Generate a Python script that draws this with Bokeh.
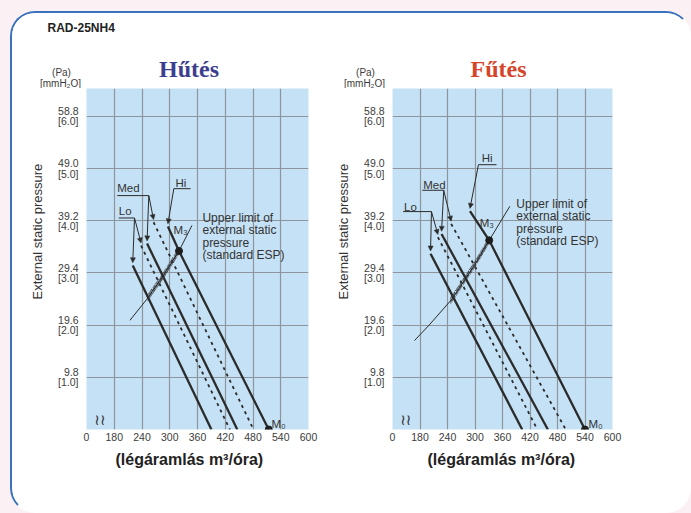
import numpy as np
from bokeh.plotting import figure
from bokeh.layouts import row, column
from bokeh.models import Range1d, FixedTicker, Label, Arrow, NormalHead, Title
from bokeh.embed import file_html
from bokeh.resources import INLINE

# ---------------- data ----------------
model_name = "RAD-25NH4"
chart_titles = ["Hűtés", "Fűtés"]
x_ticks = [120, 180, 240, 300, 360, 420, 480, 540, 600]
x_tick_labels = ["0", "180", "240", "300", "360", "420", "480", "540", "600"]
y_ticks_pa = [9.8, 19.6, 29.4, 39.2, 49.0, 58.8]
y_tick_pa_labels = ["9.8", "19.6", "29.4", "39.2", "49.0", "58.8"]
y_tick_mm_labels = ["1.0", "2.0", "3.0", "4.0", "5.0", "6.0"]
esp_note = ["Upper limit of", "external static", "pressure", "(standard ESP)"]

# Cooling (Hűtés)
cool_lo_x = [220, 390]
cool_lo_y = [30.8, 0]
cool_lo_dot_x = [238, 430]
cool_lo_dot_y = [34.5, 0]
cool_med_x = [251, 446]
cool_med_y = [34.9, 0]
cool_med_dot_x = [265, 481]
cool_med_dot_y = [38.9, 0]
cool_hi_x = [296, 320, 514]
cool_hi_y = [38.1, 33.5, 0]
cool_limit_x = [214, 250, 285, 320, 348]
cool_limit_y = [20.5, 24.4, 28.7, 33.5, 38.3]
cool_hatch_x = [252, 320]
cool_m3 = (320, 33.5)
cool_m0 = (514, 0)

# Heating (Fűtés)
heat_lo_x = [203, 403]
heat_lo_y = [33.0, 0]
heat_lo_dot_x = [219, 436]
heat_lo_dot_y = [36.1, 0]
heat_med_x = [227, 459]
heat_med_y = [36.7, 0]
heat_med_dot_x = [248, 498]
heat_med_dot_y = [38.6, 0]
heat_hi_x = [289, 331, 540]
heat_hi_y = [41.0, 35.5, 0]
heat_limit_x = [168, 200, 250, 300, 331, 376]
heat_limit_y = [16.7, 19.6, 24.5, 31.0, 35.5, 41.9]
heat_hatch_x = [246, 331]
heat_m3 = (331, 35.5)
heat_m0 = (540, 0)

# ---------------- style ----------------
PINK = "#fbf1f5"
BLUE_BG = "#c5e1f5"
GRID = "#8d949b"
INK = "#2b2b2b"
TXT = "#333333"
TICK = "#3c3c3c"
BORDER = "#3a72bd"
SANS = "Liberation Sans"


def build(fig_w, mb_left, mb_right, xlabel_off, S, L):
    p = figure(width=fig_w, height=423, x_range=Range1d(120, 600), y_range=Range1d(0, 64),
               output_backend="svg", toolbar_location=None, title=None,
               min_border_left=mb_left, min_border_right=mb_right,
               min_border_top=0, min_border_bottom=82)
    p.border_fill_color = "white"
    p.background_fill_color = BLUE_BG
    p.outline_line_color = None

    # axes
    p.xaxis.ticker = FixedTicker(ticks=x_ticks)
    p.xaxis.major_label_overrides = dict(zip(x_ticks, x_tick_labels))
    p.yaxis.ticker = FixedTicker(ticks=y_ticks_pa)
    p.yaxis.major_label_overrides = {t: f"{a}\n[{b}]" for t, a, b in
                                     zip(y_ticks_pa, y_tick_pa_labels, y_tick_mm_labels)}
    for ax in (p.xaxis, p.yaxis):
        ax.axis_line_color = None
        ax.major_tick_line_color = None
        ax.minor_tick_line_color = None
        ax.major_tick_out = 0
        ax.major_tick_in = 0
        ax.minor_tick_out = 0
        ax.minor_tick_in = 0
        ax.major_label_text_font = SANS
        ax.major_label_text_font_size = "10.5px"
        ax.major_label_text_color = TICK
    p.yaxis.major_label_text_line_height = 0.85
    p.yaxis.major_label_standoff = 8
    p.xaxis.major_label_standoff = 3
    p.xgrid.ticker = FixedTicker(ticks=x_ticks[1:-1])
    p.ygrid.ticker = FixedTicker(ticks=y_ticks_pa)
    p.grid.grid_line_color = GRID
    p.grid.grid_line_width = 1.2

    p.add_layout(Title(text="External static pressure", align="left", offset=130,
                       standoff=22, text_font=SANS, text_font_style="normal",
                       text_font_size="13px", text_color=TXT), "left")
    p.add_layout(Title(text="(légáramlás m³/óra)", align="left", offset=xlabel_off,
                       standoff=10, text_font=SANS, text_font_style="bold",
                       text_font_size="16px", text_color="#222222"), "below")

    # hatch band along the upper-limit curve
    lx, ly = np.array(S["limit_x"], float), np.array(S["limit_y"], float)
    h0, h1 = S["hatch_x"]
    inner = [x for x in lx if h0 < x < h1]
    bx = np.array([h0] + inner + [h1])
    by = np.interp(bx, lx, ly)
    p.patch(list(bx) + list(bx[::-1]), list(by - 0.6) + list((by + 0.7)[::-1]),
            fill_color=None, line_color=None, hatch_pattern="/", hatch_color=INK,
            hatch_weight=1, hatch_scale=3.5)
    p.line(S["limit_x"], S["limit_y"], line_color=INK, line_width=1)

    # fan curves
    p.line(S["lo_x"], S["lo_y"], line_color=INK, line_width=2.3)
    p.line(S["lo_dot_x"], S["lo_dot_y"], line_color=INK, line_width=1.8, line_dash="3 4")
    p.line(S["med_x"], S["med_y"], line_color=INK, line_width=2.3)
    p.line(S["med_dot_x"], S["med_dot_y"], line_color=INK, line_width=1.8, line_dash="3 4")
    p.line(S["hi_x"], S["hi_y"], line_color=INK, line_width=2.3)
    p.scatter([S["m3"][0], S["m0"][0]], [S["m3"][1], S["m0"][1]], size=7, color="#1e1e1e")

    def txt(x, y, text, size="11.5px", align="left", **kw):
        p.add_layout(Label(x=x, y=y, text=text, text_font=SANS, text_font_size=size,
                           text_color=TXT, text_baseline="middle", text_align=align, **kw))

    # leader lines (Lo / Med / Hi)
    def leader(text, tpos, ux0, ux1, uy, targets, corner):
        txt(tpos[0], tpos[1], text)
        p.segment(x0=[ux0], y0=[uy], x1=[ux1], y1=[uy], line_color=INK, line_width=1)
        cx = ux1 if corner == "right" else ux0
        for (ex, ey) in targets:
            p.add_layout(Arrow(end=NormalHead(size=5, fill_color=INK, line_color=INK, line_width=0.5),
                               x_start=cx, y_start=uy, x_end=ex, y_end=ey + 0.5,
                               line_color=INK, line_width=1))

    leader("Lo", L["lo_text"], *L["lo_line"],
           [(S["lo_x"][0], S["lo_y"][0]), (S["lo_dot_x"][0], S["lo_dot_y"][0])], "right")
    leader("Med", L["med_text"], *L["med_line"],
           [(S["med_x"][0], S["med_y"][0]), (S["med_dot_x"][0], S["med_dot_y"][0])], "right")
    leader("Hi", L["hi_text"], *L["hi_line"], [(S["hi_x"][0], S["hi_y"][0])], "left")

    # note with a light-blue backing box (drawn first), then its text lines
    ux, uy = L["upper"]
    longest = max(esp_note, key=len)
    for i in range(len(esp_note)):
        txt(ux, uy - i * 2.31, longest, size="12px", text_alpha=0,
            background_fill_color=BLUE_BG, padding=5)
    for i, line_text in enumerate(esp_note):
        txt(ux + 5 * 2.1622, uy - i * 2.31, line_text, size="12px")
    txt(L["m3"][0], L["m3"][1], "M₃")
    txt(L["m0"][0], L["m0"][1], "M₀")
    p.add_layout(Label(x=149, y=0.1, text="≀≀", text_font="DejaVu Sans", text_font_size="15px",
                       text_color=TXT, text_align="center", text_baseline="bottom"))
    return p


cool = dict(lo_x=cool_lo_x, lo_y=cool_lo_y, lo_dot_x=cool_lo_dot_x, lo_dot_y=cool_lo_dot_y,
            med_x=cool_med_x, med_y=cool_med_y, med_dot_x=cool_med_dot_x, med_dot_y=cool_med_dot_y,
            hi_x=cool_hi_x, hi_y=cool_hi_y, limit_x=cool_limit_x, limit_y=cool_limit_y,
            hatch_x=cool_hatch_x, m3=cool_m3, m0=cool_m0)
heat = dict(lo_x=heat_lo_x, lo_y=heat_lo_y, lo_dot_x=heat_lo_dot_x, lo_dot_y=heat_lo_dot_y,
            med_x=heat_med_x, med_y=heat_med_y, med_dot_x=heat_med_dot_x, med_dot_y=heat_med_dot_y,
            hi_x=heat_hi_x, hi_y=heat_hi_y, limit_x=heat_limit_x, limit_y=heat_limit_y,
            hatch_x=heat_hatch_x, m3=heat_m3, m0=heat_m0)

cool_layout = dict(lo_text=(189.8, 41.1), lo_line=(189.8, 223.8, 39.7),
                   med_text=(186.4, 45.3), med_line=(186.4, 254.7, 43.9),
                   hi_text=(312.4, 46.3), hi_line=(308.8, 344.9, 45.2),
                   upper=(359.9, 39.7), m3=(308.1, 37.5), m0=(520, 1.1))
heat_layout = dict(lo_text=(145.3, 41.8), lo_line=(143.1, 205.0, 40.9),
                   med_text=(187.0, 45.9), med_line=(184.9, 231.8, 44.9),
                   hi_text=(314.6, 50.9), hi_line=(307.5, 347.0, 49.7),
                   upper=(379.4, 42.3), m3=(310.3, 38.8), m0=(547.5, 1.1))

p1 = build(310, 74, 14, 29, cool, cool_layout)
p2 = build(367, 68, 77, 35, heat, heat_layout)

# header strip with the model name, chart titles and unit captions
header = figure(width=677, height=75, x_range=Range1d(0, 677), y_range=Range1d(0, 75),
                x_axis_type=None, y_axis_type=None, toolbar_location=None, title=None,
                output_backend="svg", min_border=0)
header.outline_line_color = None
header.background_fill_color = "white"
header.border_fill_color = "white"
header.add_layout(Label(x=35, y=61, text=model_name, text_font=SANS, text_font_style="bold",
                        text_font_size="12px", text_color="#222222", text_baseline="middle"))
for tx, tt, col in [(176.5, chart_titles[0], "#3d3f8e"), (486, chart_titles[1], "#d6452b")]:
    header.add_layout(Label(x=tx, y=19.3, text=tt, text_font="Liberation Serif",
                            text_font_style="bold", text_font_size="24px", text_color=col,
                            text_align="center", text_baseline="middle"))
for ux in (49, 353):
    header.add_layout(Label(x=ux, y=16, text="(Pa)", text_font=SANS, text_font_size="10px",
                            text_color=TICK, text_align="center", text_baseline="middle"))
    header.add_layout(Label(x=ux - 1, y=5, text="[mmH₂O]", text_font=SANS, text_font_size="10px",
                            text_color=TICK, text_align="center", text_baseline="middle"))

root = column(header, row(p1, p2), margin=(11, 0, 0, 10),
              styles={"border": f"2px solid {BORDER}", "border-radius": "25px",
                      "border-right-color": "transparent", "border-bottom-color": "transparent",
                      "background-color": "white", "overflow": "hidden",
                      "box-shadow": f"0 0 0 40px {PINK}"})
open("out.html", "w").write(file_html(root, INLINE))
